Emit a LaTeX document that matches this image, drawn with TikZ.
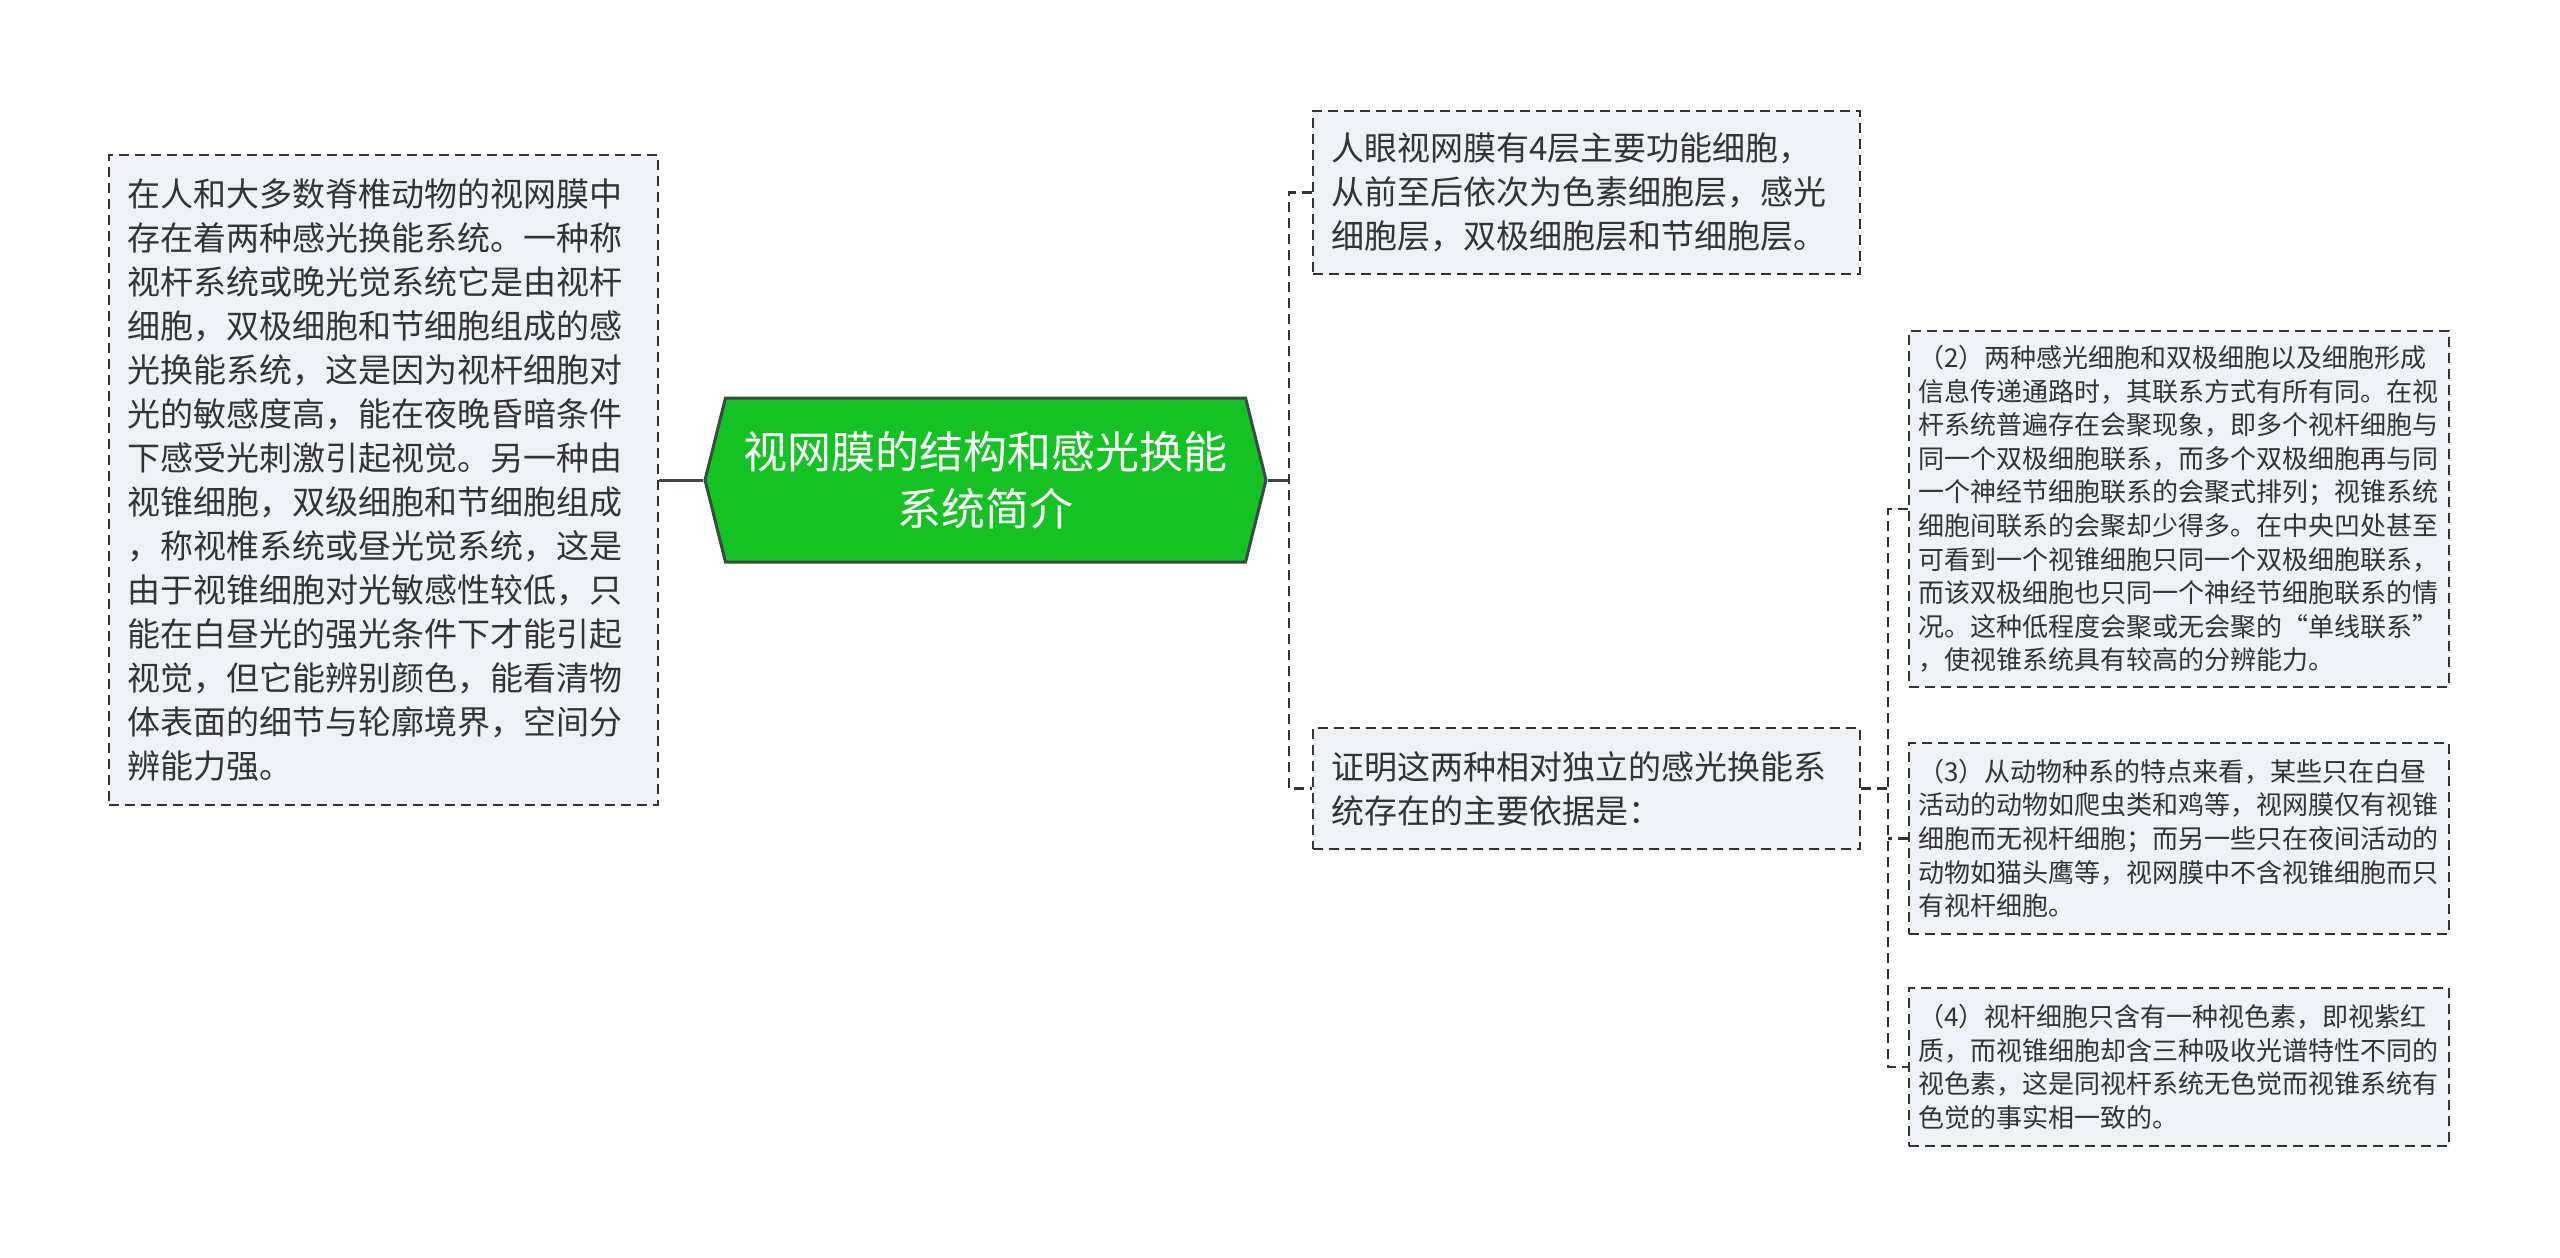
\documentclass[tikz,border=0pt]{standalone}
\usepackage{fontspec}
\newfontfamily\cjk{Noto Sans CJK SC}
\usetikzlibrary{shapes.symbols}
\definecolor{boxfill}{HTML}{EEF1F5}
\definecolor{boxline}{HTML}{333333}
\definecolor{hubfill}{HTML}{14C224}
\definecolor{hubline}{HTML}{3B4A3F}
\definecolor{txt}{HTML}{333333}

\begin{document}
\begin{tikzpicture}[x=0.5pt,y=-0.5pt,
  note/.style={draw=boxline, fill=boxfill, dash pattern=on 5pt off 3pt, line width=1pt,
    inner xsep=9pt, inner ysep=0pt, align=left, text=txt,
    font=\cjk\fontsize{16.5}{22}\selectfont},
  small/.style={note, inner xsep=4.5pt, text width=261pt,
    font=\cjk\fontsize{13}{16.8}\selectfont},
  hubbox/.style={signal, signal to=west and east, signal pointer angle=152,
    draw=hubline, fill=hubfill, line width=1.5pt, text=white, align=center,
    minimum width=280.5pt, minimum height=82pt, inner sep=0pt,
    font=\cjk\fontsize{22}{28.5}\selectfont},
  trunk/.style={draw=hubline, line width=1.5pt},
  twig/.style={draw=boxline, line width=1.2pt, dash pattern=on 5pt off 3pt}]

\useasboundingbox (0,0) rectangle (2560,1258);

% centre and the long note on the left
\node[hubbox] (hub) at (985.5,480) {视网膜的结构和感光换能\\系统简介};
\node[note, text width=256.5pt, minimum height=325pt] (retina) at (383.5,480)
  {在人和大多数脊椎动物的视网膜中\\存在着两种感光换能系统。一种称\\视杆系统或晚光觉系统它是由视杆\\细胞，双极细胞和节细胞组成的感\\光换能系统，这是因为视杆细胞对\\光的敏感度高，能在夜晚昏暗条件\\下感受光刺激引起视觉。另一种由\\视锥细胞，双级细胞和节细胞组成\\，称视椎系统或昼光觉系统，这是\\由于视锥细胞对光敏感性较低，只\\能在白昼光的强光条件下才能引起\\视觉，但它能辨别颜色，能看清物\\体表面的细节与轮廓境界，空间分\\辨能力强。};

% first level on the right
\node[note, text width=255.5pt, minimum height=81.5pt] (layers) at (1586.5,192.5)
  {人眼视网膜有4层主要功能细胞，\\从前至后依次为色素细胞层，感光\\细胞层，双极细胞层和节细胞层。};
\node[note, text width=255.5pt, minimum height=60.5pt] (evidence) at (1586.5,788.5)
  {证明这两种相对独立的感光换能系\\统存在的主要依据是：};

% second level
\node[small, minimum height=178pt] (conv) at (2179,509)
  {（2）两种感光细胞和双极细胞以及细胞形成\\信息传递通路时，其联系方式有所有同。在视\\杆系统普遍存在会聚现象，即多个视杆细胞与\\同一个双极细胞联系，而多个双极细胞再与同\\一个神经节细胞联系的会聚式排列；视锥系统\\细胞间联系的会聚却少得多。在中央凹处甚至\\可看到一个视锥细胞只同一个双极细胞联系，\\而该双极细胞也只同一个神经节细胞联系的情\\况。这种低程度会聚或无会聚的“单线联系”\\，使视锥系统具有较高的分辨能力。};
\node[small, minimum height=95.5pt] (species) at (2179,838.5)
  {（3）从动物种系的特点来看，某些只在白昼\\活动的动物如爬虫类和鸡等，视网膜仅有视锥\\细胞而无视杆细胞；而另一些只在夜间活动的\\动物如猫头鹰等，视网膜中不含视锥细胞而只\\有视杆细胞。};
\node[small, minimum height=79pt] (pigment) at (2179,1067)
  {（4）视杆细胞只含有一种视色素，即视紫红\\质，而视锥细胞却含三种吸收光谱特性不同的\\视色素，这是同视杆系统无色觉而视锥系统有\\色觉的事实相一致的。};

% connectors
\coordinate (fork1) at (1289,480);
\coordinate (fork2) at (1888,788.5);
\draw[trunk] (hub.west) -- (retina.east);
\draw[trunk] (hub.east) -- (fork1);
\draw[twig] (layers.west) -- (layers.west -| fork1) -- (evidence.west -| fork1) -- (evidence.west);
\draw[twig] (evidence.east) -- (fork2);
\draw[twig] (conv.west) -- (conv.west -| fork2) -- (pigment.west -| fork2) -- (pigment.west);
\draw[twig] (species.west) -- (species.west -| fork2);
\end{tikzpicture}
\end{document}
